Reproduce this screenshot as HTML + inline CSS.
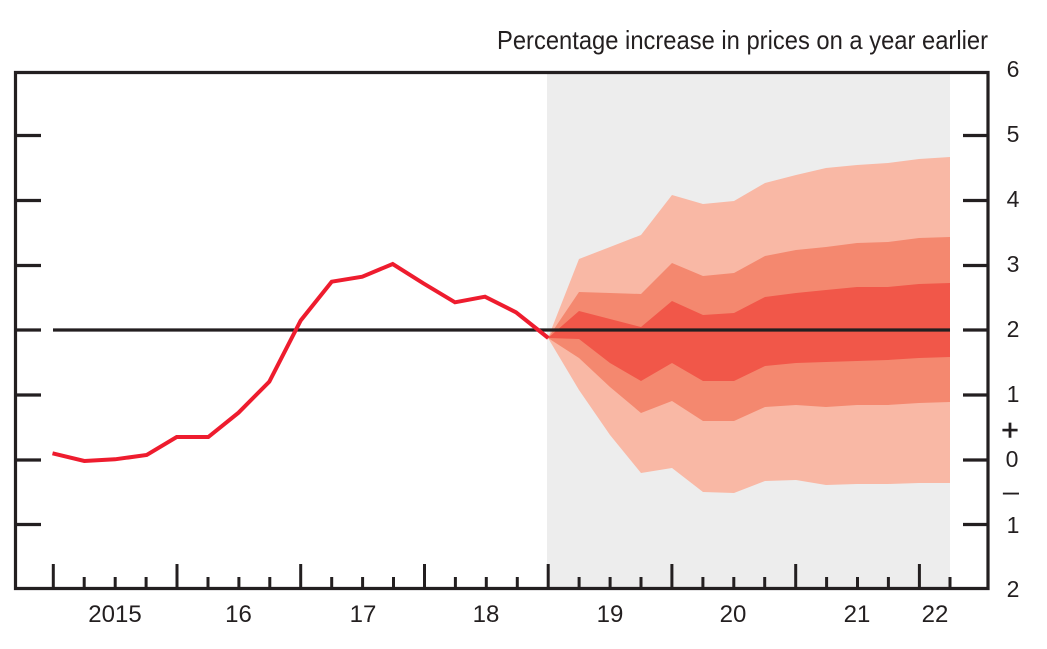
<!DOCTYPE html>
<html>
<head>
<meta charset="utf-8">
<style>
html,body{margin:0;padding:0;background:#fff;}
svg{display:block;}
text{font-family:"Liberation Sans",sans-serif;fill:#231F20;}
</style>
</head>
<body>
<svg width="1047" height="649" viewBox="0 0 1047 649" xmlns="http://www.w3.org/2000/svg">
  <!-- shaded projection region -->
  <rect x="547" y="74" width="403" height="513" fill="#EDEDED"/>

  <!-- fan bands -->
  <polygon fill="#F9B8A5" points="548,338 579,259 610,247 641,235 672,195 703,204 734,201 765,183 796,175 826,168 857,165 888,163 919,159 950,157 950,483 919,483 888,484 857,484 826,485 796,480 765,481 734,493 703,492 672,468 641,473 610,435 579,390"/>
  <polygon fill="#F4886F" points="548,338 579,292 610,293 641,294 672,263 703,276 734,273 765,256 796,250 826,247 857,243 888,242 919,238 950,237 950,402 919,403 888,405 857,405 826,407 796,405 765,407 734,421 703,421 672,401 641,413 610,387 579,358"/>
  <polygon fill="#F15749" points="548,338 579,311 610,319 641,327 672,301 703,315 734,313 765,297 796,293 826,290 857,287 888,287 919,284 950,283 950,357 919,358 888,360 857,361 826,362 796,363 765,366 734,381 703,381 672,363 641,381 610,363 579,339"/>

  <!-- 2% target line -->
  <line x1="53" y1="330" x2="950" y2="330" stroke="#231F20" stroke-width="3.2"/>

  <!-- CPI line -->
  <polyline fill="none" stroke="#EE1C2E" stroke-width="4" stroke-linejoin="miter" points="52.5,453.3 84.3,461 115,459.3 146.7,455 176.7,437 208.3,437 238.5,412.7 269.3,381.7 300.7,320.5 331.7,281.7 362.3,276.7 392.7,264 423.3,283.3 455,302.3 485,296.7 516,312.3 548.3,338"/>

  <!-- frame -->
  <path d="M15.5,72.5 H988 V588.5 H15.5 Z" fill="none" stroke="#231F20" stroke-width="3.2"/>

  <!-- left ticks -->
  <g stroke="#231F20" stroke-width="3.2">
    <line x1="15" y1="135.5" x2="41" y2="135.5"/>
    <line x1="15" y1="200.5" x2="41" y2="200.5"/>
    <line x1="15" y1="265.5" x2="41" y2="265.5"/>
    <line x1="15" y1="330" x2="41" y2="330"/>
    <line x1="15" y1="395" x2="41" y2="395"/>
    <line x1="15" y1="460" x2="41" y2="460"/>
    <line x1="15" y1="524.5" x2="41" y2="524.5"/>
  </g>
  <!-- right ticks -->
  <g stroke="#231F20" stroke-width="3.2">
    <line x1="963" y1="135.5" x2="988" y2="135.5"/>
    <line x1="963" y1="200.5" x2="988" y2="200.5"/>
    <line x1="963" y1="265.5" x2="988" y2="265.5"/>
    <line x1="963" y1="330" x2="988" y2="330"/>
    <line x1="963" y1="395" x2="988" y2="395"/>
    <line x1="963" y1="460" x2="988" y2="460"/>
    <line x1="963" y1="524.5" x2="988" y2="524.5"/>
  </g>

  <!-- bottom ticks -->
  <g stroke="#231F20" stroke-width="3">
    <line x1="53.3" y1="588" x2="53.3" y2="564"/>
    <line x1="84.2" y1="588" x2="84.2" y2="577"/>
    <line x1="115.2" y1="588" x2="115.2" y2="577"/>
    <line x1="146.1" y1="588" x2="146.1" y2="577"/>
    <line x1="177" y1="588" x2="177" y2="564"/>
    <line x1="208" y1="588" x2="208" y2="577"/>
    <line x1="238.9" y1="588" x2="238.9" y2="577"/>
    <line x1="269.8" y1="588" x2="269.8" y2="577"/>
    <line x1="300.7" y1="588" x2="300.7" y2="564"/>
    <line x1="331.7" y1="588" x2="331.7" y2="577"/>
    <line x1="362.6" y1="588" x2="362.6" y2="577"/>
    <line x1="393.5" y1="588" x2="393.5" y2="577"/>
    <line x1="424.5" y1="588" x2="424.5" y2="564"/>
    <line x1="455.4" y1="588" x2="455.4" y2="577"/>
    <line x1="486.3" y1="588" x2="486.3" y2="577"/>
    <line x1="517.3" y1="588" x2="517.3" y2="577"/>
    <line x1="548.2" y1="588" x2="548.2" y2="564"/>
    <line x1="579.1" y1="588" x2="579.1" y2="577"/>
    <line x1="610.1" y1="588" x2="610.1" y2="577"/>
    <line x1="641" y1="588" x2="641" y2="577"/>
    <line x1="671.9" y1="588" x2="671.9" y2="564"/>
    <line x1="702.9" y1="588" x2="702.9" y2="577"/>
    <line x1="733.8" y1="588" x2="733.8" y2="577"/>
    <line x1="764.7" y1="588" x2="764.7" y2="577"/>
    <line x1="795.7" y1="588" x2="795.7" y2="564"/>
    <line x1="826.6" y1="588" x2="826.6" y2="577"/>
    <line x1="857.5" y1="588" x2="857.5" y2="577"/>
    <line x1="888.4" y1="588" x2="888.4" y2="577"/>
    <line x1="919.4" y1="588" x2="919.4" y2="564"/>
    <line x1="950" y1="588" x2="950" y2="577"/>
  </g>

  <!-- title -->
  <text x="988" y="49" font-size="26" text-anchor="end" textLength="491" lengthAdjust="spacingAndGlyphs">Percentage increase in prices on a year earlier</text>

  <!-- right axis labels -->
  <g font-size="23" text-anchor="middle">
    <text x="1013" y="77">6</text>
    <text x="1013" y="142">5</text>
    <text x="1013" y="207">4</text>
    <text x="1013" y="272">3</text>
    <text x="1013" y="337">2</text>
    <text x="1013" y="402">1</text>
    <text x="1012" y="467">0</text>
    <text x="1013" y="533">1</text>
    <text x="1013" y="597">2</text>
  </g>
  <text x="1010" y="440" font-size="30" text-anchor="middle" style="stroke:#231F20;stroke-width:0.6">+</text>
  <text x="1011" y="501" font-size="29" text-anchor="middle">–</text>

  <!-- x axis labels -->
  <g font-size="24" text-anchor="middle">
    <text x="115" y="622">2015</text>
    <text x="238.5" y="622">16</text>
    <text x="363" y="622">17</text>
    <text x="486" y="622">18</text>
    <text x="610" y="622">19</text>
    <text x="733" y="622">20</text>
    <text x="857" y="622">21</text>
    <text x="935" y="622">22</text>
  </g>
</svg>
</body>
</html>
